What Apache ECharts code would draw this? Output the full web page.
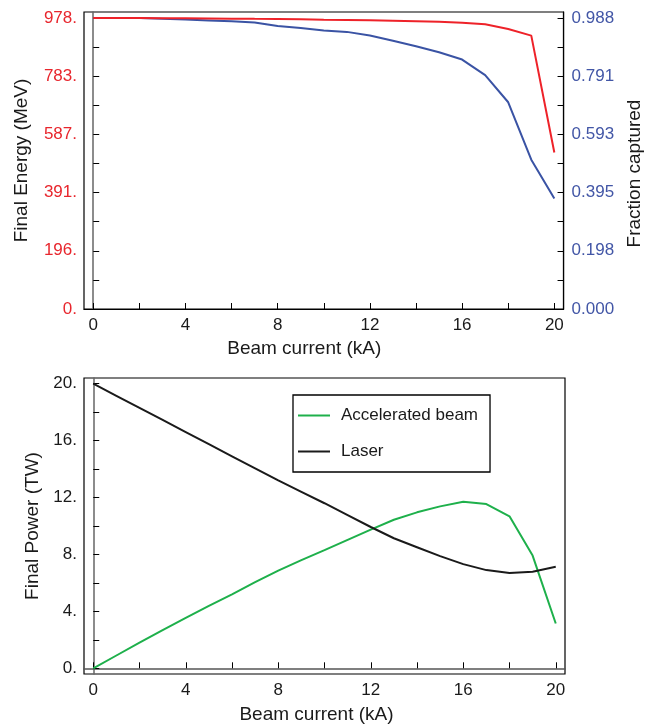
<!DOCTYPE html>
<html><head><meta charset="utf-8">
<script src="https://cdn.jsdelivr.net/npm/echarts@6/dist/echarts.min.js"></script>
<style>html,body{margin:0;padding:0;background:#fff}#c{width:652px;height:725px}</style>
</head><body><div id="c"></div>
<script>
// ---- data ----
const current = [0,1,2,3,4,5,6,7,8,9,10,11,12,13,14,15,16,17,18,19,20];
const finalEnergy = [978,978,977.7,977.4,977,976.4,975.7,975,974.4,973.4,972.3,971.3,970,968.6,967,965,962,956.5,941,918.6,526];
const fractionCaptured = [0.9885,0.9885,0.988,0.986,0.983,0.980,0.977,0.973,0.961,0.954,0.946,0.941,0.929,0.911,0.892,0.872,0.847,0.794,0.702,0.507,0.375];
const acceleratedBeam = [0,0.9,1.8,2.68,3.54,4.38,5.2,6.05,6.87,7.6,8.3,9.03,9.75,10.44,10.96,11.38,11.7,11.54,10.68,7.92,3.15];
const laserPower = [20,19.15,18.3,17.45,16.6,15.75,14.9,14.05,13.2,12.4,11.6,10.77,9.93,9.14,8.51,7.88,7.32,6.9,6.69,6.78,7.13];

const currentTicks = [0,2,4,6,8,10,12,14,16,18,20];
const currentTickLabels = [0,4,8,12,16,20];
const energyTicks = [0,97.82,195.64,293.46,391.28,489.1,586.92,684.74,782.56,880.38,978.2];
const energyLabelValues = [0,195.64,391.28,586.92,782.56,978.2];
const energyLabels = ['0.','196.','391.','587.','783.','978.'];
const fractionTicks = [0,0.09885,0.1977,0.29655,0.3954,0.49425,0.5931,0.69195,0.7908,0.88965,0.9885];
const fractionLabelValues = [0,0.1977,0.3954,0.5931,0.7908,0.9885];
const fractionLabels = ['0.000','0.198','0.395','0.593','0.791','0.988'];
const powerTicks = [0,2,4,6,8,10,12,14,16,18,20];
const powerLabelValues = [0,4,8,12,16,20];
const powerLabels = ['0.','4.','8.','12.','16.','20.'];

// ---- helpers ----
function labelFor(vals, labels){
  return function(v){
    let best = 0, d = Infinity;
    vals.forEach((x,i)=>{ const dd = Math.abs(x - v); if (dd < d){ d = dd; best = i; } });
    return labels[best];
  };
}
const FONT = 'Liberation Sans, Arial, Helvetica, sans-serif';
const energyMax = 998;
const fractionMax = 0.9885 * energyMax / 978.2;
const pair = (xs, ys) => xs.map((x,i)=>[x, ys[i]]);

const tickStyle = { show:true, inside:true, length:6, lineStyle:{color:'#000', width:1} };

const chart = echarts.init(document.getElementById('c'), null, {renderer:'canvas'});
chart.setOption({
  animation:false,
  backgroundColor:'#fff',
  textStyle:{fontFamily:FONT},
  grid:[
    {left:84, top:12, width:480, height:297, containLabel:false, show:true, borderColor:'#000', borderWidth:1.2, backgroundColor:'transparent'},
    {left:84, top:378, width:481, height:298, containLabel:false, show:true, borderColor:'#000', borderWidth:1.2, backgroundColor:'transparent'}
  ],
  legend:{
    data:['Accelerated beam','Laser'],
    orient:'vertical', left:293, top:395,
    padding:[12,12,12,5], itemGap:19,
    itemWidth:32, itemHeight:2, icon:'rect',
    borderColor:'#000', borderWidth:1.3, backgroundColor:'#fff',
    selectedMode:false,
    textStyle:{fontSize:17, color:'#1a1a1a', fontFamily:FONT, padding:[0,0,0,6]}
  },
  xAxis:[
    {type:'value', gridIndex:0, min:-0.4, max:20.4,
     name:'Beam current (kA)', nameLocation:'middle', nameGap:30,
     nameTextStyle:{fontSize:19, color:'#1a1a1a', padding:[0,39,0,0]},
     axisLine:{show:true, lineStyle:{color:'#000', width:1.2}},
     axisTick:Object.assign({customValues:currentTicks}, tickStyle),
     axisLabel:{customValues:currentTickLabels, fontSize:17, color:'#1a1a1a', margin:8},
     splitLine:{show:false}},
    {type:'value', gridIndex:1, min:-0.4, max:20.4,
     name:'Beam current (kA)', nameLocation:'middle', nameGap:31,
     nameTextStyle:{fontSize:19, color:'#1a1a1a', padding:[0,16,0,0]},
     axisLine:{show:true, lineStyle:{color:'#555', width:1.5}},
     axisTick:Object.assign({customValues:currentTicks}, tickStyle),
     axisLabel:{customValues:currentTickLabels, fontSize:17, color:'#1a1a1a', margin:8},
     splitLine:{show:false}}
  ],
  yAxis:[
    {type:'value', gridIndex:0, min:0, max:energyMax, position:'left',
     name:'Final Energy (MeV)', nameLocation:'middle', nameGap:53, nameRotate:90,
     nameTextStyle:{fontSize:19, color:'#1a1a1a'},
     axisLine:{show:true, lineStyle:{color:'#666', width:1.5}},
     axisTick:Object.assign({customValues:energyTicks}, tickStyle),
     axisLabel:{customValues:energyLabelValues, formatter:labelFor(energyLabelValues, energyLabels), fontSize:17, color:'#e8262d', margin:7},
     splitLine:{show:false}},
    {type:'value', gridIndex:0, min:0, max:fractionMax, position:'right',
     name:'Fraction captured', nameLocation:'middle', nameGap:59, nameRotate:90,
     nameTextStyle:{fontSize:19, color:'#1a1a1a', padding:[0,26,0,0]},
     axisLine:{show:true, lineStyle:{color:'#000', width:1.2}},
     axisTick:Object.assign({customValues:fractionTicks}, tickStyle),
     axisLabel:{customValues:fractionLabelValues, formatter:labelFor(fractionLabelValues, fractionLabels), fontSize:17, color:'#4256a6', margin:8},
     splitLine:{show:false}},
    {type:'value', gridIndex:1, min:-0.4, max:20.4, position:'left',
     name:'Final Power (TW)', nameLocation:'middle', nameGap:40, nameRotate:90,
     nameTextStyle:{fontSize:19, color:'#1a1a1a'},
     axisLine:{show:true, lineStyle:{color:'#666', width:1.5}},
     axisTick:Object.assign({customValues:powerTicks}, tickStyle),
     axisLabel:{customValues:powerLabelValues, formatter:labelFor(powerLabelValues, powerLabels), fontSize:17, color:'#1a1a1a', margin:7},
     splitLine:{show:false}}
  ],
  series:[
    {name:'Final energy', type:'line', xAxisIndex:0, yAxisIndex:0, data:pair(current, finalEnergy),
     showSymbol:false, symbol:'none', lineStyle:{color:'#ee2229', width:2}, itemStyle:{color:'#ee2229'}, z:3},
    {name:'Fraction captured', type:'line', xAxisIndex:0, yAxisIndex:1, data:pair(current, fractionCaptured),
     showSymbol:false, symbol:'none', lineStyle:{color:'#3a53a4', width:2}, itemStyle:{color:'#3a53a4'}, z:2},
    {name:'Accelerated beam', type:'line', xAxisIndex:1, yAxisIndex:2, data:pair(current, acceleratedBeam),
     showSymbol:false, symbol:'none', lineStyle:{color:'#1eb04b', width:2}, itemStyle:{color:'#1eb04b'}},
    {name:'Laser', type:'line', xAxisIndex:1, yAxisIndex:2, data:pair(current, laserPower),
     showSymbol:false, symbol:'none', lineStyle:{color:'#1a1a1a', width:2}, itemStyle:{color:'#1a1a1a'}}
  ]
});
</script></body></html>
